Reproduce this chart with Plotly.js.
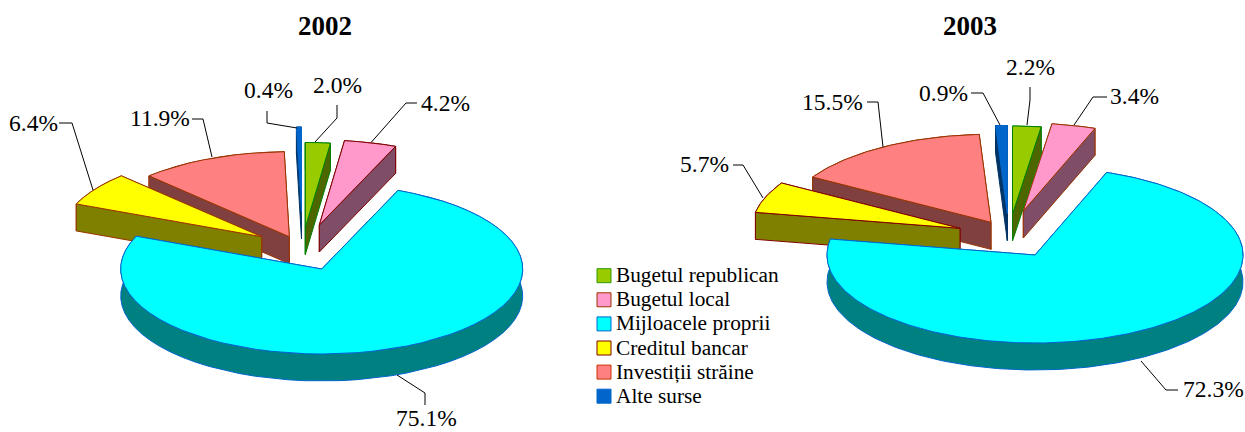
<!DOCTYPE html>
<html><head><meta charset="utf-8">
<script src="https://cdn.plot.ly/plotly-3.0.1.min.js"></script>
<style>html,body{margin:0;padding:0;background:#fff}</style></head>
<body><div id="chart" style="width:1245px;height:432px"></div>
<script>
const categories = ['Bugetul republican','Bugetul local','Mijloacele proprii','Creditul bancar','Investiții străine','Alte surse'];
const values2002 = [2.0,4.2,75.1,6.4,11.9,0.4];
const values2003 = [2.2,3.4,72.3,5.7,15.5,0.9];

const topColors  = ['#99CC00','#FF99CC','#00FFFF','#FFFF00','#FF8080','#0066CC'];
const sideColors = ['#4D6600','#804D66','#008080','#808000','#804040','#003366'];
const legendEdges = ['#339900','#993300','#0066CC','#800000','#CC3300','#0066CC'];
const drawOrder = [4,5,0,1,3,2];
const FONT = '"Liberation Serif","Times New Roman",serif';

const pie2002 = {title:'2002', titleX:325, cx:302, cy:247, rx:201, ry:85, depth:27, step:5, values:values2002,
  pulls:[[3.3,-19.5],[17.3,-22],[19.7,22],[-40.3,-10.3],[-12.7,-10.3],[-0.5,-35]],
  edges:['#008000','#800000','#0066CC','#993300','#993300','#0066CC'],
  leaders:[[[337,105],[337,118],[315,142]],[[417,103],[406,103],[371.5,142]],[[425,405],[425,393],[397,375]],
           [[59,123],[72,123],[93,190]],[[192,119],[203,119],[212,157]],[[267,111],[267,123],[297,128]]],
  labels:[[337.5,84.5],[445.5,103],[426,418],[33.5,123],[160,118],[268,90]]};
const pie2003 = {title:'2003', titleX:970, cx:1009, cy:235, rx:208, ry:88, depth:27, step:1, values:values2003,
  pulls:[[3.5,-21],[14.3,-24],[26,20],[-49,-6.7],[-18,-12.7],[-1.7,-21.5]],
  edges:['#008000','#993300','#0066CC','#800000','#993300','#0066CC'],
  leaders:[[[1030,87],[1030,100],[1027,125]],[[1107,97],[1093,97],[1074,125]],[[1178,390],[1166,390],[1141,361]],
           [[733,165],[743,165],[763,198]],[[867,102],[878,102],[883,147]],[[971,93],[983,93],[1000,125]]],
  labels:[[1030,66.5],[1134,96],[1213,389],[704,164],[832,102],[943,93]]};

const legendX = 604, legendTextX = 616, legendY0 = 275.7, legendDY = 24.1, legendTextDY = 1.2;

const traces = [], annotations = [];
const rad = d => d*Math.PI/180;

function addPoly(xs, ys, fill, line){
  traces.push({type:'scatter',mode:'lines',x:xs,y:ys,fill:'toself',fillcolor:fill,
    line:{color:line,width:1},hoverinfo:'skip',showlegend:false});
}
function drawPie(p){
  const total = p.values.reduce((a,b)=>a+b,0);
  let acc = 0;
  const slices = p.values.map(v=>{const a0=acc/total*360; acc+=v; return {a0,a1:acc/total*360};});
  drawOrder.forEach(i=>{
    const {a0,a1} = slices[i];
    const ax = p.cx + p.pulls[i][0], ay = p.cy + p.pulls[i][1];
    const arc = [];
    const n = Math.max(2,Math.ceil((a1-a0)/p.step));
    for(let k=0;k<=n;k++){
      const t = rad(a0+(a1-a0)*k/n);
      arc.push([ax+p.rx*Math.sin(t), ay-p.ry*Math.cos(t)]);
    }
    const d = p.depth, edge = p.edges[i], wallEdge = i===5 ? sideColors[5] : edge;
    addPoly(arc.map(q=>q[0]).concat(arc.map(q=>q[0]).reverse(),[arc[0][0]]),
            arc.map(q=>q[1]).concat(arc.map(q=>q[1]+d).reverse(),[arc[0][1]]),sideColors[i],wallEdge);
    // radial walls, the one nearer the viewer last
    [arc[0],arc[arc.length-1]].sort((u,v)=>u[1]-v[1]).forEach(q=>{
      addPoly([ax,q[0],q[0],ax,ax],[ay,q[1],q[1]+d,ay+d,ay],sideColors[i],wallEdge);
    });
    addPoly([ax].concat(arc.map(q=>q[0]),[ax]),[ay].concat(arc.map(q=>q[1]),[ay]),topColors[i],edge);
  });
  p.leaders.forEach((l,i)=>{
    traces.push({type:'scatter',mode:'lines',x:l.map(q=>q[0]),y:l.map(q=>q[1]),
      line:{color:'#000',width:1},hoverinfo:'skip',showlegend:false});
    annotations.push({x:p.labels[i][0],y:p.labels[i][1],xref:'x',yref:'y',showarrow:false,
      text:p.values[i].toFixed(1)+'%',font:{family:FONT,size:23.5,color:'#000'}});
  });
  annotations.push({x:p.titleX,y:26,xref:'x',yref:'y',showarrow:false,
    text:'<b>'+p.title+'</b>',font:{family:FONT,size:27,color:'#000'}});
}
drawPie(pie2002);
drawPie(pie2003);

// legend
traces.push({type:'scatter',mode:'markers',
  x:categories.map(()=>legendX),
  y:categories.map((c,i)=>legendY0+i*legendDY),
  marker:{symbol:'square',size:14,color:topColors,line:{color:legendEdges,width:1}},
  hoverinfo:'skip',showlegend:false});
traces.push({type:'scatter',mode:'text',
  x:categories.map(()=>legendTextX),
  y:categories.map((c,i)=>legendY0+legendTextDY+i*legendDY),
  text:categories,textposition:'middle right',
  textfont:{family:FONT,size:21.3,color:'#000'},
  hoverinfo:'skip',showlegend:false});

Plotly.newPlot('chart',traces,{
  width:1245,height:432,margin:{l:0,r:0,t:0,b:0},
  paper_bgcolor:'#fff',plot_bgcolor:'#fff',showlegend:false,
  xaxis:{range:[0,1245],visible:false,fixedrange:true},
  yaxis:{range:[432,0],visible:false,fixedrange:true},
  annotations
},{displayModeBar:false,staticPlot:true});
</script></body></html>
